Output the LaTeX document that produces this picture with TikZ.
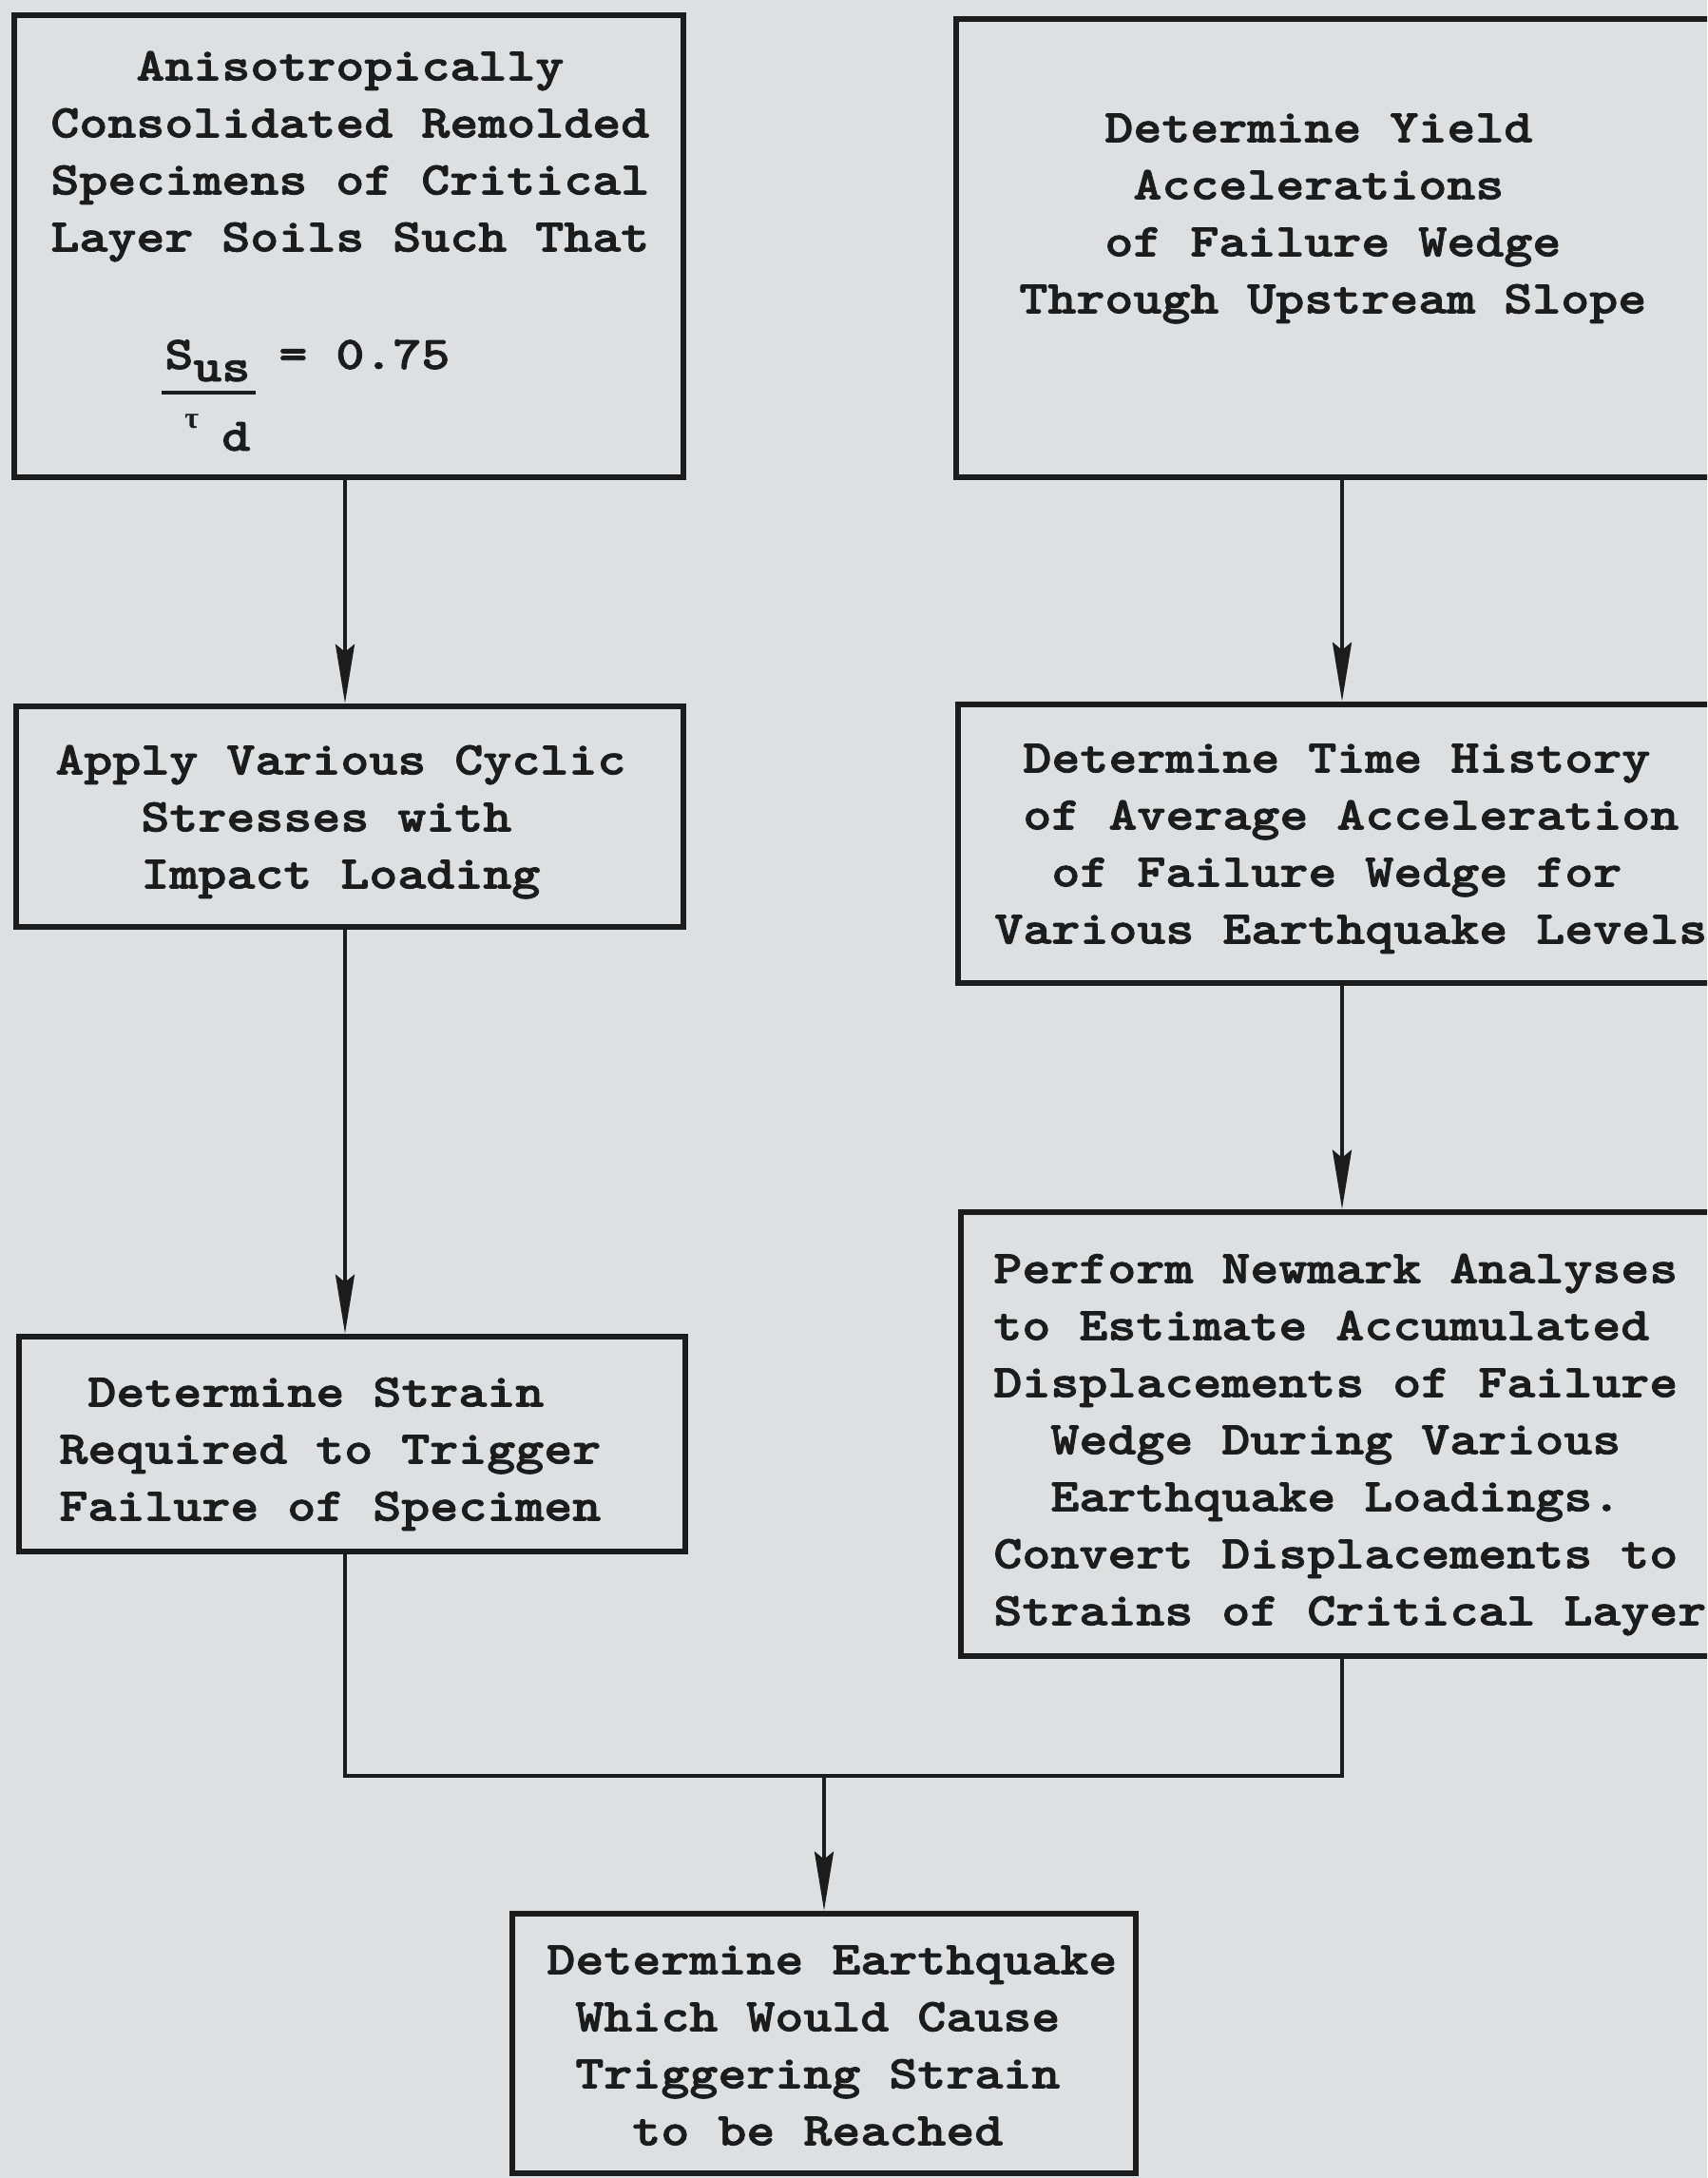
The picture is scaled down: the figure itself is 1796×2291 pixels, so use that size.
\documentclass[tikz,border=0pt]{standalone}
\usepackage{fontspec}
% heavy slab typewriter face, widened to a 15pt character pitch at 24.5pt
\newfontfamily\tw{lmmonolt10-bold.otf}[FakeStretch=1.166,FakeBold=1.8]
\newfontfamily\grk{Liberation Serif}
\usetikzlibrary{arrows.meta}
\definecolor{paper}{RGB}{221,223,224}
\definecolor{ink}{RGB}{28,28,28}
\newlength\padw
\setlength\padw{15pt}
% indent by a number of monospaced character cells
\newcommand\pad[1]{\hspace*{#1\padw}}
% fixes the height of the first line so north west sits 22pt above its baseline
\newcommand\tallstrut{\rule{0pt}{22pt}}
\begin{document}
\begin{tikzpicture}[x=0.5pt,y=-0.5pt,
  stepbox/.style={draw=ink, line width=3.3pt, inner sep=0pt, rectangle},
  txt/.style={inner sep=0pt, anchor=north west, align=left, text=ink,
    font=\tw\fontsize{24.5pt}{30pt}\selectfont},
  fm/.style={inner sep=0pt, anchor=base west, text=ink,
    font=\tw\fontsize{24.5pt}{30pt}\selectfont},
  link/.style={draw=ink, line width=2pt},
  arr/.style={link, -{Stealth[length=31pt,width=10pt,inset=4pt]}}]
\useasboundingbox (0,0) rectangle (1796,2291);
\fill[paper] (0,0) rectangle (1796,2291);
\clip (0,0) rectangle (1796,2291);

% column guides
\coordinate (colL) at (363,0);
\coordinate (colR) at (1412,0);
\coordinate (join) at (867,1868);

% boxes
\node[stepbox, minimum width=352pt, minimum height=243pt] (boxA) at (367,259) {};
\node[stepbox, minimum width=402pt, minimum height=241pt] (boxB) at (1408,261) {};
\node[stepbox, minimum width=351pt, minimum height=116pt] (boxC) at (368,859) {};
\node[stepbox, minimum width=401pt, minimum height=146.5pt] (boxD) at (1409,887.5) {};
\node[stepbox, minimum width=350.5pt, minimum height=113pt] (boxE) at (370.5,1519) {};
\node[stepbox, minimum width=399.5pt, minimum height=233.5pt] (boxF) at (1410.5,1508.5) {};
\node[stepbox, minimum width=328pt, minimum height=136.5pt] (boxG) at (867,2149.5) {};

% box texts
\node[txt] (tA) at (53,40) {\tallstrut\pad{3}Anisotropically\\Consolidated Remolded\\Specimens of Critical\\Layer Soils Such That};
\node[txt] (tB) at (1072,105) {\tallstrut\pad{3}Determine Yield\\\pad{4}Accelerations\\\pad{3}of Failure Wedge\\Through Upstream Slope};
\node[txt] (tC) at (58,770) {\tallstrut Apply Various Cyclic\\\pad{3}Stresses with\\\pad{3}Impact Loading};
\node[txt] (tD) at (1046,768) {\tallstrut\pad{1}Determine Time History\\\pad{1}of Average Acceleration\\\pad{2}of Failure Wedge for\\Various Earthquake Levels};
\node[txt] (tE) at (62,1435) {\tallstrut\pad{1}Determine Strain\\Required to Trigger\\Failure of Specimen};
\node[txt] (tF) at (1045,1305) {\tallstrut Perform Newmark Analyses\\to Estimate Accumulated\\Displacements of Failure\\\pad{2}Wedge During Various\\\pad{2}Earthquake Loadings.\\Convert Displacements to\\Strains of Critical Layer};
\node[txt] (tG) at (575,2032) {\tallstrut Determine Earthquake\\\pad{1}Which Would Cause\\\pad{1}Triggering Strain\\\pad{3}to be Reached};

% ratio S_us / tau_d = 0.75
\node[fm] (fS) at (173,388) {S};
\node[fm] (fus) at (203,401) {us};
\node[fm] (feq) at (293,388) {= 0.75};
\draw[ink, line width=2.2pt] (170,413) -- (269,413);
\node[fm, font=\grk\bfseries\fontsize{16pt}{18pt}\selectfont] (ftau) at (194,450) {τ};
\node[fm] (fd) at (233,474) {d};

% connectors
\draw[arr] (boxA.south -| colL) -- (boxC.north -| colL);
\draw[arr] (boxC.south -| colL) -- (boxE.north -| colL);
\draw[arr] (boxB.south -| colR) -- (boxD.north -| colR);
\draw[arr] (boxD.south -| colR) -- (boxF.north -| colR);
\draw[link] (boxE.south -| colL) |- (join) -| (boxF.south -| colR);
\draw[arr] (join) -- (boxG.north);
\end{tikzpicture}
\end{document}
